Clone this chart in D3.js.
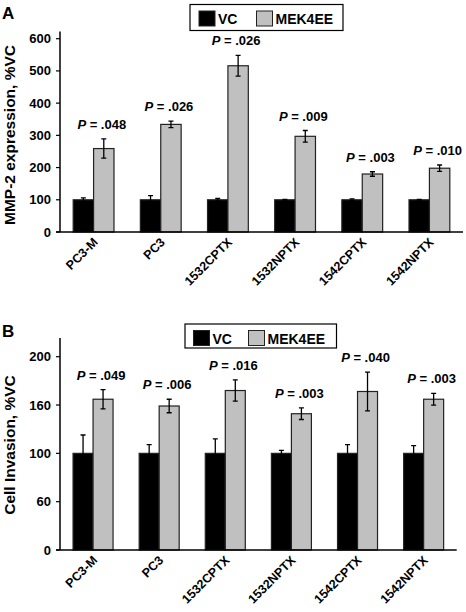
<!DOCTYPE html>
<html><head><meta charset="utf-8">
<script src="https://cdn.jsdelivr.net/npm/d3@7"></script>
<style>
body{margin:0;background:#fff;}
text{font-family:"Liberation Sans",Arial,sans-serif;font-weight:bold;fill:#000;}
</style></head>
<body>
<svg id="c" width="466" height="612"></svg>
<script>
const categories = ["PC3-M","PC3","1532CPTX","1532NPTX","1542CPTX","1542NPTX"];
const seriesNames = ["VC","MEK4EE"];

// Panel A: MMP-2 expression, %VC
const aVC = [100,100,100,100,100,100];
const aVCerr = [6,13,4,1,3,1];
const aMEK = [259,334,516,297,180,198];
const aMEKerr = [30,10,32,18,7,10];
const aP = [".048",".026",".026",".009",".003",".010"];
const aTicks = [0,100,200,300,400,500,600];
const aTickLabels = ["0","100","200","300","400","500","600"];

// Panel B: Cell invasion, %VC
const bVC = [100,100,100,100,100,100];
const bVCerr = [19,9,15,3,9,8];
const bMEK = [156,149,165,141,164,156];
const bMEKerr = [10,7,11,6,20,6];
const bP = [".049",".006",".016",".003",".040",".003"];
const bTicks = [0,50,100,150,200];
const bTickLabels = ["0","60","100","160","200"];

const svg = d3.select("#c");
const colors = ["#000000","#c0c0c0"];

function panel(o){
  const g = svg.append("g");
  const x = d3.scaleBand().domain(categories).range([o.x0,o.x1]);
  const y = d3.scaleLinear().domain(o.domain).range([o.yBase,o.yTop]);
  const bw = o.bw;
  // panel letter
  g.append("text").attr("x",2).attr("y",o.letterY).attr("font-size",17).text(o.letter);
  // y axis title
  g.append("text").attr("transform",`translate(15,${o.titleY}) rotate(-90)`)
    .attr("text-anchor","middle").attr("font-size",15.5).text(o.title);
  // bars
  categories.forEach((c,i)=>{
    const cx = x(c)+x.bandwidth()/2;
    const vals=[o.vc[i],o.mek[i]], errs=[o.vcErr[i],o.mekErr[i]];
    vals.forEach((v,j)=>{
      const bx = j===0? cx-bw : cx;
      g.append("rect").attr("x",bx).attr("y",y(v)).attr("width",bw).attr("height",y(0)-y(v))
        .attr("fill",colors[j]).attr("stroke","#222").attr("stroke-width",1.2);
    });
    vals.forEach((v,j)=>{
      const ex = j===0? cx-bw/2 : cx+bw/2;
      const e = errs[j];
      if(e<=0.5) return;
      const path = d3.path();
      path.moveTo(ex,y(v-e)); path.lineTo(ex,y(v+e));
      path.moveTo(ex-2.5,y(v+e)); path.lineTo(ex+2.5,y(v+e));
      path.moveTo(ex-2.5,y(v-e)); path.lineTo(ex+2.5,y(v-e));
      g.append("path").attr("d",path.toString()).attr("stroke","#000").attr("stroke-width",1.3).attr("fill","none");
    });
    // P label
    const t = g.append("text").attr("x",cx+bw/2-2).attr("y",y(o.mek[i]+o.mekErr[i])-10)
      .attr("text-anchor","middle").attr("font-size",13);
    t.append("tspan").attr("font-style","italic").text("P");
    t.append("tspan").text(" = "+o.p[i]);
    // x label
    g.append("text").attr("transform",`translate(${cx+5},${o.yBase+11}) rotate(-45)`)
      .attr("text-anchor","end").attr("font-size",12.5).text(c);
  });
  // axes
  g.append("line").attr("x1",o.x0).attr("x2",o.x0).attr("y1",o.axisTop).attr("y2",o.yBase).attr("stroke","#000").attr("stroke-width",1.5);
  g.append("line").attr("x1",o.x0-4).attr("x2",o.x1).attr("y1",o.yBase).attr("y2",o.yBase).attr("stroke","#000").attr("stroke-width",1.5);
  o.ticks.forEach((tv,k)=>{
    g.append("line").attr("x1",o.x0-4).attr("x2",o.x0).attr("y1",y(tv)).attr("y2",y(tv)).attr("stroke","#000").attr("stroke-width",1.2);
    g.append("text").attr("x",o.x0-9).attr("y",y(tv)+4.5).attr("text-anchor","end").attr("font-size",13).text(o.tickLabels[k]);
  });
  // legend
  const L = o.legend;
  g.append("rect").attr("x",L.x).attr("y",L.y).attr("width",L.w).attr("height",L.h).attr("fill","#fff").attr("stroke","#000").attr("stroke-width",1.2);
  seriesNames.forEach((s,j)=>{
    const sx = L.x + L.sw[j];
    g.append("rect").attr("x",sx).attr("y",L.y+6.5).attr("width",16).attr("height",15).attr("fill",colors[j]).attr("stroke","#222").attr("stroke-width",1);
    g.append("text").attr("x",sx+19).attr("y",L.y+19.5).attr("font-size",14).text(s);
  });
}

panel({letter:"A",letterY:19,title:"MMP-2 expression, %VC",titleY:135,
  x0:60,x1:463,domain:[0,600],yBase:232,yTop:38.7,axisTop:31.5,bw:20.4,
  vc:aVC,vcErr:aVCerr,mek:aMEK,mekErr:aMEKerr,p:aP,ticks:aTicks,tickLabels:aTickLabels,
  legend:{x:190,y:4.5,w:153,h:26,sw:[9,66.5]}});
panel({letter:"B",letterY:337,title:"Cell Invasion, %VC",titleY:445,
  x0:60,x1:456.7,domain:[0,200],yBase:550,yTop:356.7,axisTop:338,bw:20,
  vc:bVC,vcErr:bVCerr,mek:bMEK,mekErr:bMEKerr,p:bP,ticks:bTicks,tickLabels:bTickLabels,
  legend:{x:185,y:324,w:151.5,h:24,sw:[8.5,63.5]}});
</script>
</body></html>
